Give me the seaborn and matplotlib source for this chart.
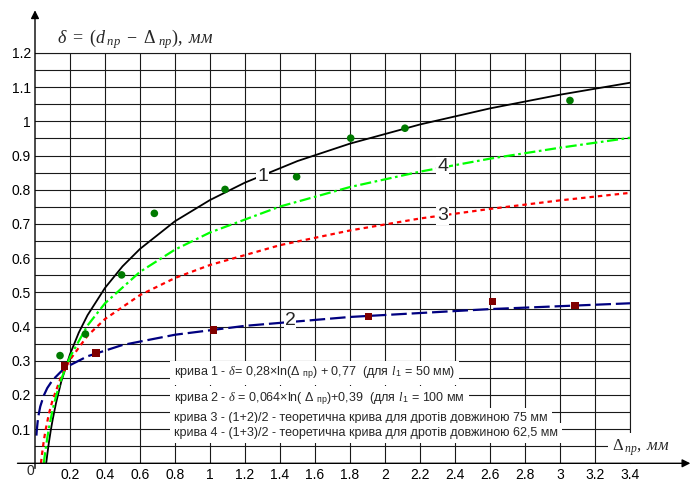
import numpy as np
import pandas as pd
import matplotlib
matplotlib.use("Agg")
import matplotlib.pyplot as plt
import seaborn as sns

# ---------------- data ----------------
c1_x = [0.064, 0.07, 0.08, 0.09, 0.1, 0.12, 0.15, 0.2, 0.25, 0.3, 0.4, 0.5, 0.6, 0.8, 1.0, 1.2, 1.5, 1.8, 2.2, 2.6, 3.0, 3.4]
c1_y = [0.0, 0.025, 0.063, 0.096, 0.125, 0.176, 0.239, 0.319, 0.382, 0.433, 0.513, 0.576, 0.627, 0.708, 0.770, 0.821, 0.884, 0.935, 0.991, 1.038, 1.078, 1.113]

c2_x = [0.008, 0.01, 0.015, 0.02, 0.03, 0.05, 0.07, 0.1, 0.15, 0.2, 0.3, 0.5, 0.8, 1.2, 1.8, 2.6, 3.4]
c2_y = [0.081, 0.095, 0.121, 0.140, 0.166, 0.198, 0.220, 0.243, 0.269, 0.287, 0.313, 0.346, 0.376, 0.402, 0.428, 0.451, 0.468]

c3_x = [0.034, 0.04, 0.05, 0.06, 0.08, 0.1, 0.15, 0.2, 0.3, 0.4, 0.6, 0.8, 1.0, 1.4, 1.8, 2.2, 2.6, 3.0, 3.4]
c3_y = [0.0, 0.026, 0.065, 0.096, 0.146, 0.184, 0.254, 0.303, 0.373, 0.422, 0.492, 0.542, 0.580, 0.638, 0.681, 0.716, 0.744, 0.769, 0.791]

c4_x = [0.05, 0.06, 0.07, 0.08, 0.1, 0.12, 0.15, 0.2, 0.3, 0.4, 0.6, 0.8, 1.0, 1.4, 1.8, 2.2, 2.6, 3.0, 3.4]
c4_y = [0.0, 0.039, 0.074, 0.104, 0.155, 0.196, 0.246, 0.311, 0.403, 0.468, 0.560, 0.625, 0.675, 0.751, 0.808, 0.853, 0.891, 0.923, 0.952]

pts1_x = [0.143, 0.288, 0.495, 0.682, 1.086, 1.495, 1.804, 2.114, 3.057]
pts1_y = [0.315, 0.378, 0.551, 0.731, 0.801, 0.838, 0.951, 0.980, 1.061]

pts2_x = [0.168, 0.350, 1.019, 1.905, 2.615, 3.086]
pts2_y = [0.285, 0.322, 0.390, 0.429, 0.473, 0.461]

x_ticks = [0.2, 0.4, 0.6, 0.8, 1.0, 1.2, 1.4, 1.6, 1.8, 2.0, 2.2, 2.4, 2.6, 2.8, 3.0, 3.2, 3.4]
x_tick_labels = ["0.2", "0.4", "0.6", "0.8", "1", "1.2", "1.4", "1.6", "1.8", "2", "2.2", "2.4", "2.6", "2.8", "3", "3.2", "3.4"]
y_ticks = [0.1, 0.2, 0.3, 0.4, 0.5, 0.6, 0.7, 0.8, 0.9, 1.0, 1.1, 1.2]
y_tick_labels = ["0.1", "0.2", "0.3", "0.4", "0.5", "0.6", "0.7", "0.8", "0.9", "1", "1.1", "1.2"]

legend_lines = [
    r"крива 1 - $\delta$= 0,28×ln(Δ $_{\mathsf{пр}}$) + 0,77  (для $\mathit{l}_{\,\mathsf{1}}$ = 50 мм)",
    r"крива 2 - $\delta$ = 0,064×ln( Δ $_{\mathsf{пр}}$)+0,39  (для $\mathit{l}_{\,\mathsf{1}}$ = 100 мм",
    "крива 3 - (1+2)/2 - теоретична крива для дротів довжиною 75 мм",
    "крива 4 - (1+3)/2 - теоретична крива для дротів довжиною 62,5 мм",
]

# ---------------- style ----------------
sns.set_theme(style="white")
plt.rcParams["font.family"] = ["Liberation Sans", "DejaVu Sans"]
plt.rcParams["mathtext.fontset"] = "custom"
plt.rcParams["mathtext.rm"] = "Liberation Serif"
plt.rcParams["mathtext.it"] = "Liberation Serif:italic"
plt.rcParams["mathtext.sf"] = "Liberation Sans"

W, H = 693, 483
fig = plt.figure(figsize=(W / 100, H / 100), dpi=100)
fig.patch.set_facecolor("white")
x0, x1 = 35.0, 630.0
y0, y1 = 463.3, 53.0
ax = fig.add_axes([x0 / W, (H - y0) / H, (x1 - x0) / W, (y0 - y1) / H])
ax.set_facecolor("white")
ax.set_xlim(0, 3.4)
ax.set_ylim(0, 1.2)

grid_col = "#1a1a1a"
ax.set_xticks(x_ticks)
ax.set_xticklabels(x_tick_labels)
ax.set_yticks(y_ticks)
ax.set_yticklabels(y_tick_labels)
ax.set_yticks(np.arange(0.05, 1.21, 0.1), minor=True)
ax.tick_params(axis="both", which="both", length=0, labelsize=10, colors="black")
ax.tick_params(axis="x", pad=3.5)
ax.tick_params(axis="y", pad=3)
ax.grid(True, which="both", color=grid_col, lw=0.8)
ax.set_axisbelow(True)
for s in ["left", "bottom"]:
    ax.spines[s].set_visible(False)
for s in ["top", "right"]:
    ax.spines[s].set_color(grid_col)
    ax.spines[s].set_linewidth(0.8)

# ---------------- curves ----------------
sns.lineplot(x=c1_x, y=c1_y, ax=ax, color="black", lw=1.3, zorder=3)
sns.lineplot(x=c2_x, y=c2_y, ax=ax, color="#000080", lw=1.6, linestyle=(0, (7, 2.2)), zorder=3)
sns.lineplot(x=c3_x, y=c3_y, ax=ax, color="#ff0000", lw=1.6, linestyle=(0, (2.0, 1.8)), zorder=3)
sns.lineplot(x=c4_x, y=c4_y, ax=ax, color="#00ff00", lw=1.6, linestyle=(0, (5, 1.6, 1.2, 1.6)), zorder=3)

sns.scatterplot(x=pts1_x, y=pts1_y, ax=ax, marker="o", s=30, color="#007a00", edgecolor="none", zorder=4)
sns.scatterplot(x=pts2_x, y=pts2_y, ax=ax, marker="s", s=30, color="#800000", edgecolor="none", zorder=4)

# curve labels
wbox = dict(boxstyle="square,pad=0.05", fc="white", ec="none")
for txt, (lx, ly) in zip(["1", "2", "3", "4"], [(1.30, 0.838), (1.457, 0.419), (2.33, 0.726), (2.33, 0.868)]):
    ax.text(lx, ly, txt, fontsize=14, ha="center", va="center", bbox=wbox, zorder=5)

# legend text block
leg_y = [0.265, 0.190, 0.133, 0.088]
lbox = dict(boxstyle="square,pad=0.3", fc="white", ec="none")
for txt, ly in zip(legend_lines, leg_y):
    ax.text(0.795, ly, txt, fontsize=9.0, ha="left", va="center", bbox=lbox, zorder=5,
            math_fontfamily="custom")

# axis arrows
arrow = dict(arrowstyle="-|>", lw=1.0, color="black", mutation_scale=12, shrinkA=0, shrinkB=0)
ax.annotate("", xy=(0, 1.325), xytext=(0, -0.015), xycoords="data", arrowprops=arrow,
            annotation_clip=False, zorder=6)
ax.annotate("", xy=(3.745, 0), xytext=(-0.1, 0), xycoords="data", arrowprops=arrow,
            annotation_clip=False, zorder=6)

ax.text(-0.005, -0.022, "0", fontsize=10, ha="right", va="center", zorder=6, clip_on=False)

# axis titles
ax.text(0.126, 1.229, r"$\delta\ =\ (d_{\;\mathit{пр}}\ -\ \Delta_{\;\mathit{пр}}),\ \mathit{мм}$",
        fontsize=13, ha="left", va="baseline", clip_on=False, math_fontfamily="custom")
ax.text(3.30, 0.045, r"$\Delta_{\,\mathit{пр}},\ \mathit{мм}$", fontsize=12, ha="left", va="center",
        clip_on=False, math_fontfamily="custom",
        bbox=dict(boxstyle="square,pad=0.3", fc="white", ec="none"), zorder=5)

fig.savefig("out.png", dpi=100, facecolor="white")
